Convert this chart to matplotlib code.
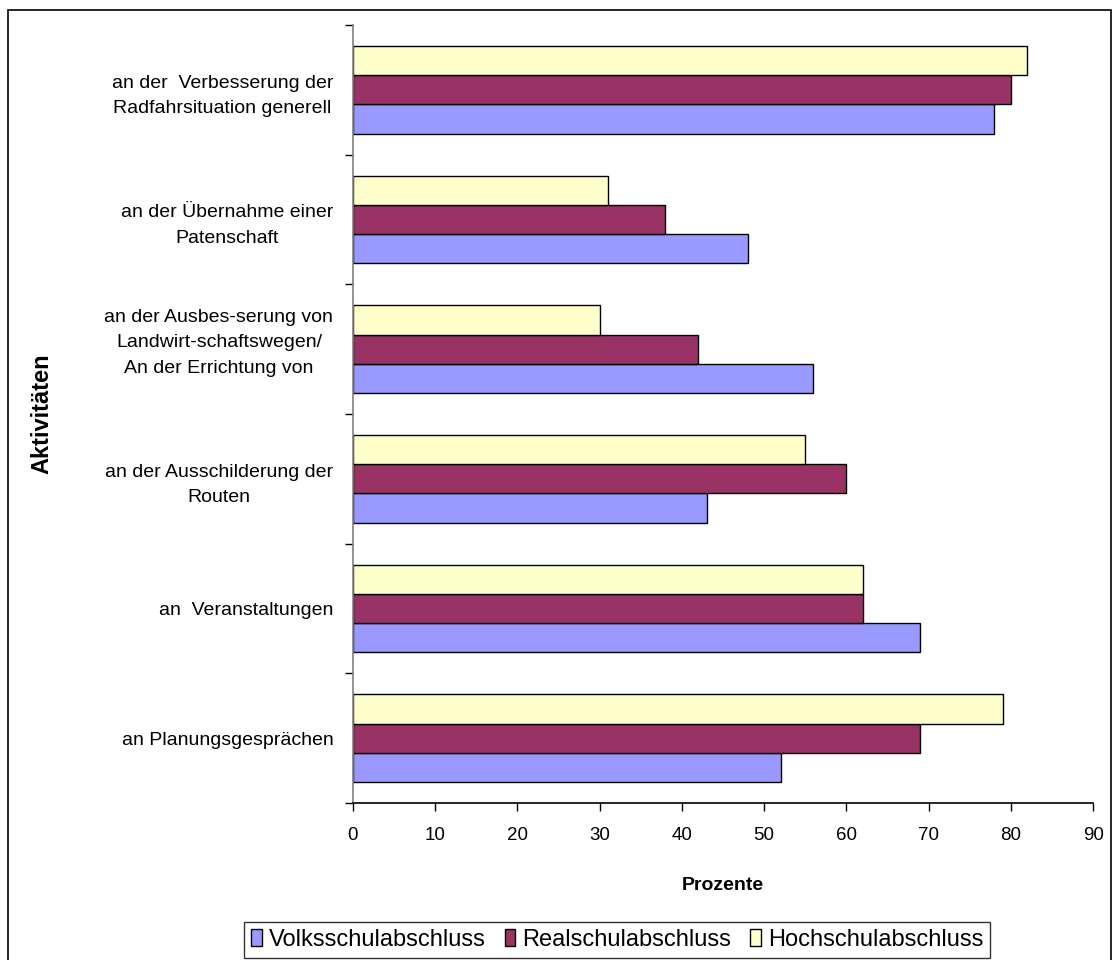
import numpy as np
import matplotlib.pyplot as plt
from matplotlib.patches import Rectangle, Patch

plt.rcParams['font.family'] = ['Liberation Sans', 'DejaVu Sans']

# Activities, bottom to top as drawn on the y axis
activities = [
    "an Planungsgesprächen",
    "an  Veranstaltungen",
    "an der Ausschilderung der\nRouten",
    "an der Ausbes-serung von\nLandwirt-schaftswegen/\nAn der Errichtung von\n ",
    "an der Übernahme einer\nPatenschaft",
    "an der  Verbesserung der\nRadfahrsituation generell",
]

series_names = ["Volksschulabschluss", "Realschulabschluss", "Hochschulabschluss"]
volksschule = [52, 69, 43, 56, 48, 78]
realschule = [69, 62, 60, 42, 38, 80]
hochschule = [79, 62, 55, 30, 31, 82]
colors = ["#9999FF", "#993366", "#FFFFCC"]

fig = plt.figure(figsize=(11.2, 9.6), dpi=100)
ax = fig.add_axes([0.315, 0.1635, 0.661, 0.8105])

y = np.arange(len(activities))
h = 0.226
for i, (vals, col, name) in enumerate(zip([volksschule, realschule, hochschule], colors, series_names)):
    ax.barh(y + (i - 1) * h, vals, height=h, color=col, edgecolor="black",
            linewidth=1.0, label=name)

ax.set_xlim(0, 90)
ax.set_ylim(-0.5, len(activities) - 0.5)
ax.set_xticks(np.arange(0, 91, 10))
ax.tick_params(axis="x", labelsize=13.5, length=6, width=1, pad=11, direction="out")

# category labels sit between the boundary ticks
ax.set_yticks(y)
ax.set_yticklabels(activities, fontsize=14, ha="right", multialignment="center",
                   linespacing=1.65)
ax.tick_params(axis="y", which="major", length=0, pad=14)
ax.set_yticks(np.arange(-0.5, len(activities), 1), minor=True)
ax.tick_params(axis="y", which="minor", length=6, width=1, color="black")

for s in ["top", "right"]:
    ax.spines[s].set_visible(False)
ax.spines["left"].set_color("#808080")
ax.spines["left"].set_linewidth(1.2)
ax.spines["bottom"].set_linewidth(1.2)

ax.set_xlabel("Prozente", fontsize=14, fontweight="bold", labelpad=24)
fig.text(0.037, 1 - 414 / 960, "Aktivitäten", rotation=90, fontsize=17,
         fontweight="bold", ha="center", va="center")

handles = [Patch(facecolor=c, edgecolor="black", linewidth=1.0) for c in colors]
leg = fig.legend(handles, series_names, loc="center", bbox_to_anchor=(0.551, 0.021),
                 ncol=3, fontsize=17, frameon=True, fancybox=False, edgecolor="black",
                 handlelength=0.45, handleheight=0.7, handletextpad=0.3,
                 columnspacing=0.8, borderpad=0.3)
leg.get_frame().set_linewidth(1.0)

# outer chart border
fig.patches.append(Rectangle((8 / 1120, -0.01), 1103 / 1120, 1 - 10 / 960 + 0.01,
                             transform=fig.transFigure, fill=False,
                             edgecolor="black", linewidth=1.2))

fig.savefig("out.png", dpi=100)
